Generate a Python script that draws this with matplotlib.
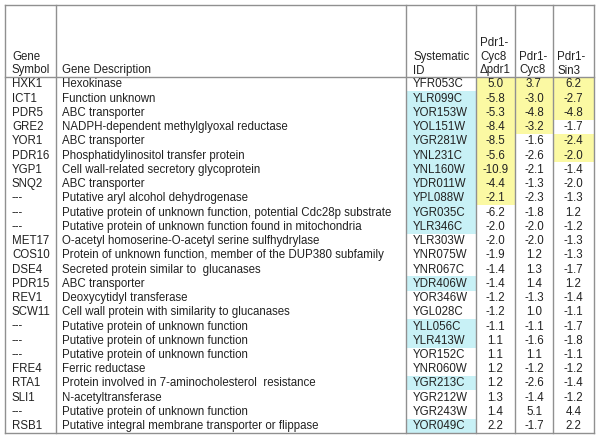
import matplotlib.pyplot as plt
from matplotlib.patches import Rectangle

plt.rcParams['font.family'] = ['Liberation Sans', 'DejaVu Sans']

symbols = ['HXK1', 'ICT1', 'PDR5', 'GRE2', 'YOR1', 'PDR16', 'YGP1', 'SNQ2', '---', '---', '---',
           'MET17', 'COS10', 'DSE4', 'PDR15', 'REV1', 'SCW11', '---', '---', '---',
           'FRE4', 'RTA1', 'SLI1', '---', 'RSB1']
descriptions = [
    'Hexokinase',
    'Function unknown',
    'ABC transporter',
    'NADPH-dependent methylglyoxal reductase',
    'ABC transporter',
    'Phosphatidylinositol transfer protein',
    'Cell wall-related secretory glycoprotein',
    'ABC transporter',
    'Putative aryl alcohol dehydrogenase',
    'Putative protein of unknown function, potential Cdc28p substrate',
    'Putative protein of unknown function found in mitochondria',
    'O-acetyl homoserine-O-acetyl serine sulfhydrylase',
    'Protein of unknown function, member of the DUP380 subfamily',
    'Secreted protein similar to  glucanases',
    'ABC transporter',
    'Deoxycytidyl transferase',
    'Cell wall protein with similarity to glucanases',
    'Putative protein of unknown function',
    'Putative protein of unknown function',
    'Putative protein of unknown function',
    'Ferric reductase',
    'Protein involved in 7-aminocholesterol  resistance',
    'N-acetyltransferase',
    'Putative protein of unknown function',
    'Putative integral membrane transporter or flippase',
]
sys_ids = ['YFR053C', 'YLR099C', 'YOR153W', 'YOL151W', 'YGR281W', 'YNL231C', 'YNL160W', 'YDR011W',
           'YPL088W', 'YGR035C', 'YLR346C', 'YLR303W', 'YNR075W', 'YNR067C', 'YDR406W', 'YOR346W',
           'YGL028C', 'YLL056C', 'YLR413W', 'YOR152C', 'YNR060W', 'YGR213C', 'YGR212W', 'YGR243W',
           'YOR049C']
cyc8_dpdr1 = [5.0, -5.8, -5.3, -8.4, -8.5, -5.6, -10.9, -4.4, -2.1, -6.2, -2.0, -2.0, -1.9, -1.4,
              -1.4, -1.2, -1.2, -1.1, 1.1, 1.1, 1.2, 1.2, 1.3, 1.4, 2.2]
cyc8 = [3.7, -3.0, -4.8, -3.2, -1.6, -2.6, -2.1, -1.3, -2.3, -1.8, -2.0, -2.0, 1.2, 1.3,
        1.4, -1.3, 1.0, -1.1, -1.6, 1.1, -1.2, -2.6, -1.4, 5.1, -1.7]
sin3 = [6.2, -2.7, -4.8, -1.7, -2.4, -2.0, -1.4, -2.0, -1.3, 1.2, -1.2, -1.3, -1.3, -1.7,
        1.2, -1.4, -1.1, -1.7, -1.8, -1.1, -1.2, -1.4, -1.2, 4.4, 2.2]
# highlighted cells
cyan_ids = ['YLR099C', 'YOR153W', 'YOL151W', 'YGR281W', 'YNL231C', 'YNL160W', 'YDR011W', 'YPL088W',
            'YGR035C', 'YLR346C', 'YDR406W', 'YLL056C', 'YLR413W', 'YGR213C', 'YOR049C']
yellow_dpdr1 = [0, 1, 2, 3, 4, 5, 6, 7, 8]
yellow_cyc8 = [0, 1, 2, 3]
yellow_sin3 = [0, 1, 2, 4, 5]

headers = ['Gene\nSymbol', 'Gene Description', 'Systematic\nID', 'Pdr1-\nCyc8\n\u0394pdr1', 'Pdr1-\nCyc8', 'Pdr1-\nSin3']

CYAN = '#c8f1f6'
YELLOW = '#fbf9a3'
LINE = '#909090'
TXT = '#222222'

fig = plt.figure(figsize=(6.02, 4.40), dpi=100)
ax = fig.add_axes([0, 0, 1, 1])
ax.set_xlim(0, 602)
ax.set_ylim(440, 0)
ax.axis('off')

# column edges (pixels)
xs = [5, 56, 406, 476, 515, 553, 594]
top, head_bot, bot = 5, 77, 433
n = len(sys_ids)
rh = (bot - head_bot) / n

def row_y(i):
    return head_bot + rh * i

for i, sid in enumerate(sys_ids):
    if sid in cyan_ids:
        ax.add_patch(Rectangle((xs[2], row_y(i)), xs[3] - xs[2], rh, color=CYAN, lw=0))
for col, rows in zip([3, 4, 5], [yellow_dpdr1, yellow_cyc8, yellow_sin3]):
    for i in rows:
        ax.add_patch(Rectangle((xs[col], row_y(i)), xs[col + 1] - xs[col], rh, color=YELLOW, lw=0))

# grid lines
for x in xs:
    ax.plot([x, x], [top, bot], color=LINE, lw=1.0)
for y in [top, head_bot, bot]:
    ax.plot([xs[0], xs[-1]], [y, y], color=LINE, lw=1.0)

fs = 8.3
# header
hy = head_bot - 0.5
ax.text(12, hy, headers[0], ha='left', va='bottom', fontsize=fs, color=TXT, linespacing=1.18)
ax.text(62, hy, headers[1], ha='left', va='bottom', fontsize=fs, color=TXT, linespacing=1.18)
ax.text(413, hy, headers[2], ha='left', va='bottom', fontsize=fs, color=TXT, linespacing=1.18)
for col in [3, 4, 5]:
    ax.text(xs[col] + 4, hy, headers[col], ha='left', va='bottom', fontsize=fs,
            color=TXT, linespacing=1.18)

for i in range(n):
    yc = row_y(i) + rh / 2 + 0.3
    ax.text(12, yc, symbols[i], ha='left', va='center', fontsize=fs, color=TXT)
    ax.text(62, yc, descriptions[i], ha='left', va='center', fontsize=fs, color=TXT)
    ax.text(413, yc, sys_ids[i], ha='left', va='center', fontsize=fs, color=TXT)
    for col, vals in zip([3, 4, 5], [cyc8_dpdr1, cyc8, sin3]):
        ax.text((xs[col] + xs[col + 1]) / 2, yc, f'{vals[i]:.1f}', ha='center', va='center',
                fontsize=fs, color=TXT)

fig.savefig('out.png', dpi=100, facecolor='white')
